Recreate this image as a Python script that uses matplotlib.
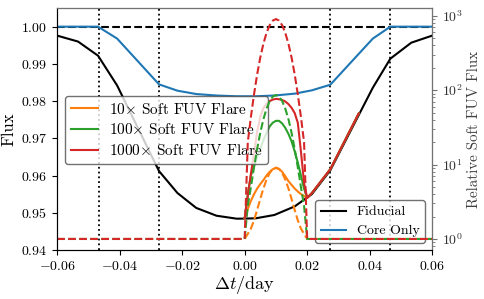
import numpy as np
import matplotlib
matplotlib.use("Agg")
import matplotlib.pyplot as plt

plt.rcParams["font.family"] = "serif"
plt.rcParams["font.serif"] = ["cmr10", "DejaVu Serif"]
plt.rcParams["mathtext.fontset"] = "cm"
plt.rcParams["axes.formatter.use_mathtext"] = True
plt.rcParams["font.size"] = 10

# ---------------------------------------------------------------
# data
# ---------------------------------------------------------------
t_grid = [-0.06, -0.0533, -0.0469, -0.0408, -0.0274, -0.0215, -0.0155, -0.009, -0.0025,
          0.0035, 0.0095, 0.016, 0.0215, 0.0274, 0.041, 0.0466, 0.0533, 0.06]
fiducial = [0.9976, 0.9960, 0.9922, 0.9842, 0.9612, 0.9553, 0.9513, 0.9492, 0.9484,
            0.9485, 0.9494, 0.9517, 0.9550, 0.9614, 0.9836, 0.9914, 0.9957, 0.9976]
core_only = [1.0, 1.0, 1.0, 0.9968, 0.9845, 0.9828, 0.9819, 0.9815, 0.9813,
             0.9813, 0.9815, 0.9820, 0.9829, 0.9844, 0.9968, 1.0, 1.0, 1.0]

# flux during the flare (left axis)
t_flare = [0.0, 0.001, 0.002, 0.003, 0.004, 0.005, 0.006, 0.007, 0.008, 0.009, 0.010,
           0.011, 0.012, 0.013, 0.014, 0.015, 0.016, 0.017, 0.018, 0.019, 0.020,
           0.0215, 0.0274, 0.0365]
flux_10 = [0.9485, 0.9510, 0.9532, 0.9550, 0.9565, 0.9577, 0.9588, 0.9600, 0.9610, 0.9617, 0.9620,
           0.9618, 0.9610, 0.9598, 0.9585, 0.9575, 0.9565, 0.9557, 0.9550, 0.9545, 0.9540,
           0.9553, 0.9617, 0.9767]
flux_100 = [0.9485, 0.9550, 0.9600, 0.9625, 0.9650, 0.9672, 0.9695, 0.9715, 0.9732, 0.9742, 0.9747,
            0.9747, 0.9740, 0.9728, 0.9712, 0.9692, 0.9665, 0.9635, 0.9600, 0.9565, 0.9540,
            0.9553, 0.9617, 0.9767]
flux_1000 = [0.9485, 0.9545, 0.9605, 0.9660, 0.9718, 0.9758, 0.9781, 0.9793, 0.9800, 0.9804, 0.9806,
             0.9805, 0.9803, 0.9799, 0.9792, 0.9782, 0.9768, 0.9742, 0.9665, 0.9580, 0.9540,
             0.9553, 0.9617, 0.9767]

# relative soft FUV flux (right axis)
t_rel = [-0.06, 0.0, 0.001, 0.002, 0.003, 0.004, 0.005, 0.006, 0.007, 0.008, 0.009, 0.010,
         0.011, 0.012, 0.013, 0.014, 0.015, 0.016, 0.017, 0.018, 0.019, 0.020, 0.06]
rel_10 = [1.0, 1.0, 1.17, 1.38, 1.78, 2.46, 3.46, 4.78, 6.28, 7.69, 8.72, 9.1,
          8.72, 7.69, 6.28, 4.78, 3.46, 2.46, 1.78, 1.38, 1.17, 1.0, 1.0]
rel_100 = [1.0, 1.0, 2.8, 5.0, 9.2, 16.3, 26.8, 40.7, 56.4, 71.3, 82.0, 86.0,
           82.0, 71.3, 56.4, 40.7, 26.8, 16.3, 9.2, 5.0, 2.8, 1.0, 1.0]
rel_1000 = [1.0, 1.0, 20.0, 43.7, 88.0, 163.0, 275.0, 421.0, 587.0, 745.0, 859.0, 901.0,
            859.0, 745.0, 587.0, 421.0, 275.0, 163.0, 88.0, 43.7, 20.0, 1.0, 1.0]

contacts = [-0.0466, -0.0274, 0.0274, 0.0466]
flare_labels = [r"10$\times$ Soft FUV Flare", r"100$\times$ Soft FUV Flare", r"1000$\times$ Soft FUV Flare"]
colors = {"10": "#ff7f0e", "100": "#2ca02c", "1000": "#d62728"}

# ---------------------------------------------------------------
# plot
# ---------------------------------------------------------------
fig = plt.figure(figsize=(4.84, 2.99), dpi=100)
ax = fig.add_axes([0.118, 0.164, 0.775, 0.809])

for c in contacts:
    ax.axvline(c, color="black", linestyle=":", linewidth=1.3, zorder=1)
ax.plot([-0.06, 0.06], [1.0, 1.0], color="black", linestyle="--", linewidth=1.5, zorder=2)

l10, = ax.plot(t_flare, flux_10, color=colors["10"], linewidth=1.5, zorder=3)
l100, = ax.plot(t_flare, flux_100, color=colors["100"], linewidth=1.5, zorder=3)
l1000, = ax.plot(t_flare, flux_1000, color=colors["1000"], linewidth=1.5, zorder=3)
lfid, = ax.plot(t_grid, fiducial, color="black", linewidth=1.5, zorder=2.5)
lcore, = ax.plot(t_grid, core_only, color="#1f77b4", linewidth=1.5, zorder=2.2)

ax.set_xlim(-0.06, 0.06)
ax.set_ylim(0.94, 1.005)
ax.set_xticks([-0.06, -0.04, -0.02, 0.0, 0.02, 0.04, 0.06])
ax.set_yticks([0.94, 0.95, 0.96, 0.97, 0.98, 0.99, 1.00])
ax.set_xticklabels(["$-0.06$", "$-0.04$", "$-0.02$", "$0.00$", "$0.02$", "$0.04$", "$0.06$"])
ax.set_yticklabels(["$0.94$", "$0.95$", "$0.96$", "$0.97$", "$0.98$", "$0.99$", "$1.00$"])
ax.tick_params(labelsize=10)
ax.set_xlabel(r"$\Delta t/$day", fontsize=13, labelpad=1)
ax.set_ylabel("Flux", fontsize=12, labelpad=3)

leg1 = ax.legend([l10, l100, l1000], flare_labels, loc="upper left",
                 bbox_to_anchor=(0.0, 0.67), fontsize=11, edgecolor="0.3",
                 handlelength=1.8, borderpad=0.4, labelspacing=0.38, handletextpad=0.7)
ax.add_artist(leg1)
ax.legend([lfid, lcore], ["Fiducial", "Core Only"], loc="lower right",
          fontsize=10, edgecolor="0.3", handlelength=1.8, borderpad=0.4,
          labelspacing=0.45, handletextpad=0.8)

ax2 = ax.twinx()
ax2.plot(t_rel, rel_10, color=colors["10"], linestyle="--", linewidth=1.5)
ax2.plot(t_rel, rel_100, color=colors["100"], linestyle="--", linewidth=1.5)
ax2.plot(t_rel, rel_1000, color=colors["1000"], linestyle="--", linewidth=1.5)
ax2.set_yscale("log")
ax2.set_ylabel("Relative Soft FUV Flux", fontsize=10.8, color="0.25", labelpad=3)
ax2.tick_params(axis="y", which="both", colors="0.45", labelcolor="0.2", labelsize=10)
ax2.spines["right"].set_color("0.45")
ax2.spines["top"].set_color("0.45")
ax2.set_xlim(-0.06, 0.06)

fig.savefig("out.png", dpi=100)
